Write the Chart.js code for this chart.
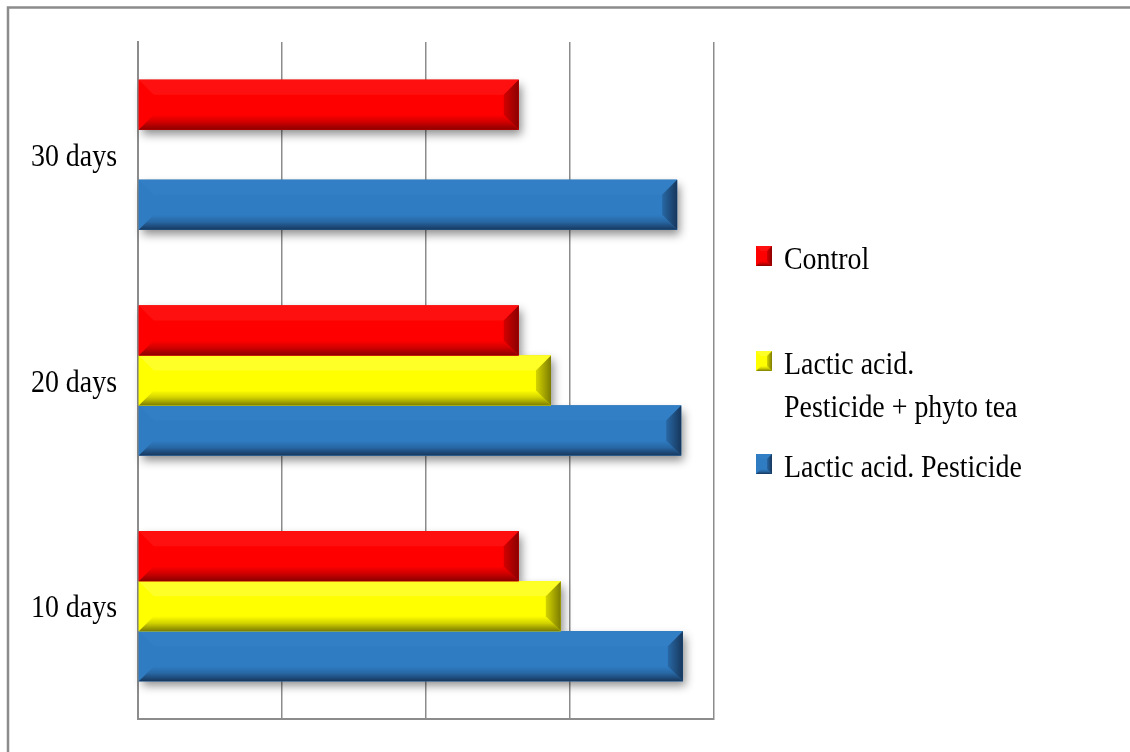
<!DOCTYPE html>
<html>
<head>
<meta charset="utf-8">
<script src="https://cdn.jsdelivr.net/npm/chart.js@4/dist/chart.umd.min.js"></script>
<style>
  html, body { margin: 0; padding: 0; background: #fff; }
  #wrap { width: 1130px; height: 752px; position: relative; }
</style>
</head>
<body>
<div id="wrap"><canvas id="chart"></canvas></div>
<script>
const categories = ['30 days', '20 days', '10 days'];
const controlValues = [66.1, 66.1, 66.1];
const phytoTeaValues = [null, 71.7, 73.4];
const pesticideValues = [93.6, 94.3, 94.6];
const seriesNames = ['Control', 'Lactic acid.\nPesticide + phyto tea', 'Lactic acid. Pesticide'];

// face / bevel colours per series
const palettes = [
  { base: '#ff0000', light: '#ff1010', mid: '#d40000', dark: '#8a0000' },
  { base: '#ffff00', light: '#ffff28', mid: '#d4d400', dark: '#7c7c00' },
  { base: '#2f7cc3', light: '#337fc5', mid: '#2868a5', dark: '#17375c' }
];

const serifFont = '"Liberation Serif", "Times New Roman", serif';

function bevelBox(ctx, L, T, R, B, b, p) {
  ctx.save();
  ctx.fillStyle = p.base;
  ctx.fillRect(L, T, R - L, B - T);

  // top strip
  ctx.fillStyle = p.light;
  ctx.beginPath();
  ctx.moveTo(L, T); ctx.lineTo(R, T); ctx.lineTo(R - b, T + b); ctx.lineTo(L + b, T + b);
  ctx.closePath(); ctx.fill();

  // bottom strip
  let g = ctx.createLinearGradient(0, B - b, 0, B);
  g.addColorStop(0, p.base);
  g.addColorStop(0.45, p.mid);
  g.addColorStop(1, p.dark);
  ctx.fillStyle = g;
  ctx.beginPath();
  ctx.moveTo(L, B); ctx.lineTo(R, B); ctx.lineTo(R - b, B - b); ctx.lineTo(L + b, B - b);
  ctx.closePath(); ctx.fill();

  // right end
  g = ctx.createLinearGradient(R - b, 0, R, 0);
  g.addColorStop(0, p.mid);
  g.addColorStop(1, p.dark);
  ctx.fillStyle = g;
  ctx.beginPath();
  ctx.moveTo(R, T); ctx.lineTo(R, B); ctx.lineTo(R - b, B - b); ctx.lineTo(R - b, T + b);
  ctx.closePath(); ctx.fill();
  ctx.restore();
}

// narrow serif text: draw at a larger size and squeeze horizontally
function condensedText(ctx, text, x, y, align) {
  const squeeze = 0.9;
  ctx.save();
  ctx.translate(x, y);
  ctx.scale(squeeze, 1);
  ctx.textAlign = align;
  ctx.fillText(text, 0, 0);
  ctx.restore();
}

const frameAndLabels = {
  id: 'frameAndLabels',
  beforeDraw(chart) {
    const ctx = chart.ctx;
    ctx.save();
    ctx.strokeStyle = '#8c8c8c';
    ctx.lineWidth = 2.5;
    ctx.beginPath();
    ctx.moveTo(8, 760); ctx.lineTo(8, 7.5); ctx.lineTo(1140, 7.5);
    ctx.stroke();
    ctx.restore();
  },
  beforeDatasetsDraw(chart) {
    // soft drop shadows under every bar
    const ctx = chart.ctx;
    chart.data.datasets.forEach((ds, i) => {
      chart.getDatasetMeta(i).data.forEach((bar, j) => {
        if (ds.data[j] == null) return;
        const { x, y, base, height } = bar.getProps(['x', 'y', 'base', 'height'], true);
        ctx.save();
        ctx.shadowColor = 'rgba(0,0,0,0.45)';
        ctx.shadowBlur = 9;
        ctx.shadowOffsetX = 3;
        ctx.shadowOffsetY = 5;
        ctx.fillStyle = '#888';
        ctx.fillRect(base, y - height / 2, x - base, height);
        ctx.restore();
      });
    });
  },
  afterDatasetDraw(chart, args) {
    const ctx = chart.ctx;
    const i = args.index;
    const ds = chart.data.datasets[i];
    args.meta.data.forEach((bar, j) => {
      if (ds.data[j] == null) return;
      const { x, y, base, height } = bar.getProps(['x', 'y', 'base', 'height'], true);
      bevelBox(ctx, base, y - height / 2, x, y + height / 2, 15, palettes[i]);
    });
  },
  afterDraw(chart) {
    const ctx = chart.ctx;
    const yScale = chart.scales.y;
    ctx.save();
    ctx.fillStyle = '#000';
    ctx.font = '31px ' + serifFont;
    ctx.textBaseline = 'middle';
    categories.forEach((c, k) => {
      condensedText(ctx, c, 117, yScale.getPixelForValue(k) + 3, 'right');
    });

    // legend
    const rows = [256, 361, 464];
    seriesNames.forEach((name, i) => {
      const cy = rows[i];
      bevelBox(ctx, 756, cy - 10, 772, cy + 10, 5, palettes[i]);
      ctx.fillStyle = '#000';
      name.split('\n').forEach((line, k) => {
        condensedText(ctx, line, 784, cy + 5 + k * 43, 'left');
      });
    });
    ctx.restore();
  }
};

new Chart(document.getElementById('chart'), {
  type: 'bar',
  data: {
    labels: categories,
    datasets: [
      { label: seriesNames[0], data: controlValues, backgroundColor: palettes[0].base },
      { label: seriesNames[1], data: phytoTeaValues, backgroundColor: palettes[1].base },
      { label: seriesNames[2], data: pesticideValues, backgroundColor: palettes[2].base }
    ]
  },
  options: {
    indexAxis: 'y',
    responsive: true,
    maintainAspectRatio: false,
    animation: false,
    categoryPercentage: 0.665,
    barPercentage: 1,
    layout: { padding: { left: 138, right: 416, top: 42, bottom: 33 } },
    scales: {
      x: {
        min: 0,
        max: 100,
        ticks: { display: false, stepSize: 25 },
        grid: { color: '#8c8c8c', lineWidth: 1.5, drawTicks: false },
        border: { display: true, color: '#8c8c8c', width: 2 },
        afterFit: (s) => { s.height = 0; }
      },
      y: {
        ticks: { display: false },
        grid: { display: false, drawTicks: false },
        border: { display: true, color: '#8c8c8c', width: 2 },
        afterFit: (s) => { s.width = 0; }
      }
    },
    plugins: {
      legend: { display: false },
      tooltip: { enabled: false }
    }
  },
  plugins: [frameAndLabels]
});
</script>
</body>
</html>
